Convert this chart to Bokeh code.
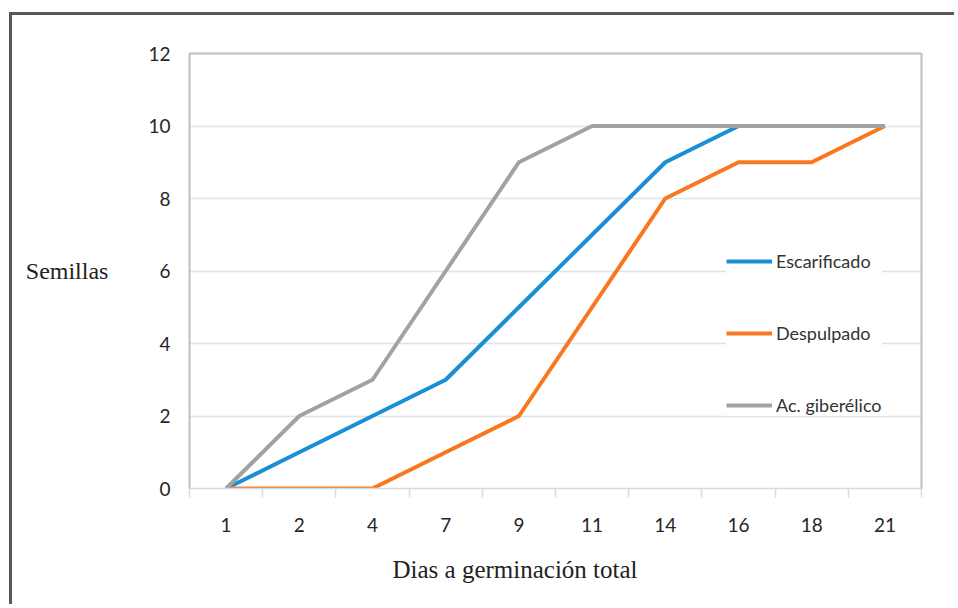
from bokeh.plotting import figure
from bokeh.models import (Range1d, FixedTicker, LinearAxis, Title)
from bokeh.embed import file_html
from bokeh.resources import INLINE

# ---- data ----
days = ["1", "2", "4", "7", "9", "11", "14", "16", "18", "21"]
escarificado = [0, 1, 2, 3, 5, 7, 9, 10, 10, 10]
despulpado = [0, 0, 0, 1, 2, 5, 8, 9, 9, 10]
giberelico = [0, 2, 3, 6, 9, 10, 10, 10, 10, 10]
series_names = ["Escarificado", "Despulpado", "Ac. giberélico"]
series_colors = ["#1B8FD6", "#F9781F", "#A2A2A2"]
y_ticks = [0, 2, 4, 6, 8, 10, 12]
x_title = "Dias a germinación total"
y_title = "Semillas"

x_idx = list(range(len(days)))

W, H = 945, 592
p = figure(width=W, height=H, output_backend="svg", toolbar_location=None,
           x_range=Range1d(-0.5, len(days) - 0.5), y_range=Range1d(0, 12),
           min_border_left=177, min_border_right=36, min_border_top=38,
           min_border_bottom=119)
p.margin = (12, 0, 0, 9)
p.styles = {"border-top": "3px solid #595959", "border-left": "3px solid #595959"}
p.outline_line_color = None
p.background_fill_color = "white"
p.border_fill_color = "white"

for vals, name, col in zip([escarificado, despulpado, giberelico], series_names, series_colors):
    p.line(x_idx, vals, line_color=col, line_width=4, legend_label=name,
           line_join="round")

# grid
p.xgrid.grid_line_color = None
p.ygrid.ticker = FixedTicker(ticks=y_ticks)
p.ygrid.grid_line_color = "#DCE4EC"
p.ygrid.grid_line_width = 1.5

# x axis
xa = p.xaxis[0]
xa.ticker = FixedTicker(ticks=x_idx, minor_ticks=[i - 0.5 for i in range(len(days) + 1)])
xa.major_label_overrides = {i: d for i, d in zip(x_idx, days)}
xa.axis_line_color = "#D3DCE6"
xa.axis_line_width = 1.5
xa.major_tick_line_color = None
xa.major_tick_out = 0
xa.major_tick_in = 0
xa.minor_tick_line_color = "#D3DCE6"
xa.minor_tick_line_width = 1.5
xa.minor_tick_out = 9
xa.minor_tick_in = 0
xa.major_label_standoff = 20
xa.major_label_text_font = "Lato"
xa.major_label_text_font_size = "19px"
xa.major_label_text_color = "#262626"

# y axis
ya = p.yaxis[0]
ya.ticker = FixedTicker(ticks=y_ticks)
ya.axis_line_color = "#BDBDBD"
ya.axis_line_width = 2
ya.major_tick_line_color = None
ya.minor_tick_line_color = None
ya.major_tick_out = 0
ya.major_label_standoff = 19
ya.major_label_text_font = "Lato"
ya.major_label_text_font_size = "19px"
ya.major_label_text_color = "#262626"
ya.axis_label = y_title
ya.axis_label_orientation = "horizontal"
ya.axis_label_standoff = 37
ya.axis_label_text_font = "Liberation Serif"
ya.axis_label_text_font_style = "normal"
ya.axis_label_text_font_size = "24px"
ya.axis_label_text_color = "#222222"

# frame top and right edges
top = LinearAxis(ticker=FixedTicker(ticks=[]), axis_line_color="#BDBDBD", axis_line_width=2,
                 major_tick_line_color=None, minor_tick_line_color=None)
right = LinearAxis(ticker=FixedTicker(ticks=[]), axis_line_color="#BDBDBD", axis_line_width=2,
                   major_tick_line_color=None, minor_tick_line_color=None)
p.add_layout(top, "above")
p.add_layout(right, "right")

# x axis title
p.add_layout(Title(text=x_title, align="left", offset=203, standoff=38,
                   text_font="Liberation Serif", text_font_style="normal",
                   text_font_size="25px", text_color="#222222"), "below")

# legend
lg = p.legend[0]
lg.location = (537, 72)
lg.margin = 0
lg.padding = 15
lg.spacing = 50
lg.glyph_width = 46
lg.glyph_height = 20
lg.label_height = 20
lg.label_standoff = 4
lg.label_text_font = "Lato"
lg.label_text_font_size = "18px"
lg.label_text_color = "#333333"
lg.border_line_color = None
lg.background_fill_color = "white"
lg.background_fill_alpha = 1.0

open("out.html", "w").write(file_html(p, INLINE))
